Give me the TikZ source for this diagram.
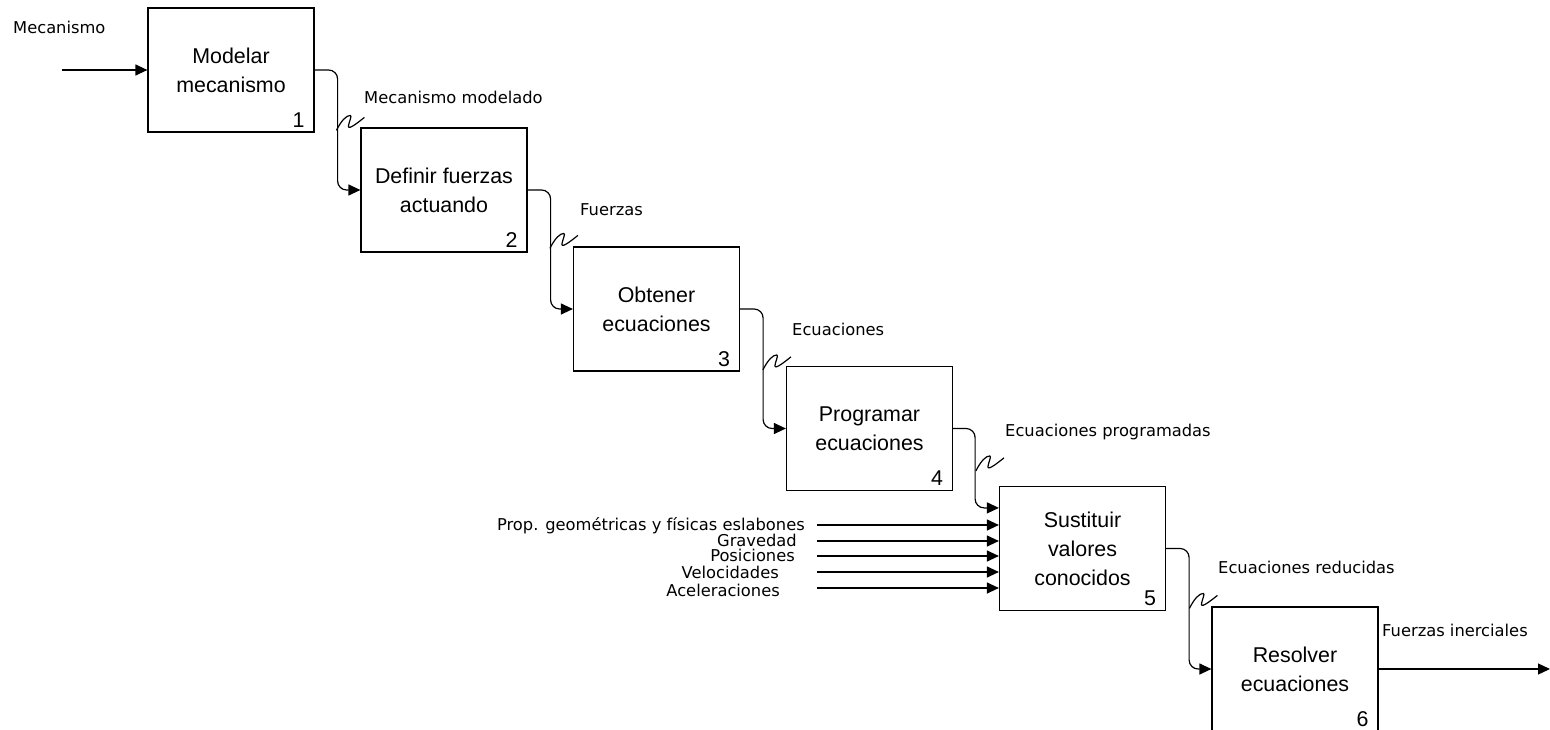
\documentclass[tikz,border=0pt]{standalone}
\usepackage{fontspec}
\setmainfont{Liberation Sans}
\newfontfamily\lblfamily{DejaVu Sans}
\usetikzlibrary{arrows.meta, calc}
\tikzset{proc/.style={draw, line width=1.2pt, minimum width=166pt, minimum height=124pt, inner sep=0pt, align=center, font=\fontsize{21.4}{29}\selectfont}}
\tikzset{procnum/.style={anchor=south east, inner sep=0pt, font=\fontsize{21.4}{25}\selectfont}}
\tikzset{flowlabel/.style={anchor=base west, inner sep=0pt, font=\lblfamily\fontsize{16.3}{18}\selectfont}}
\tikzset{inlabel/.style={flowlabel, anchor=base east}}
\tikzset{flow/.style={line width=1.2pt, rounded corners=9pt, -{Triangle[length=12pt, width=11pt]}}}
\tikzset{squiggle/.style={line width=1.2pt, line join=round}}

\begin{document}
\begin{tikzpicture}[x=1pt, y=-1pt]
    \useasboundingbox (0, 0) rectangle (1550, 730);
    % activity boxes
    \node[proc] (b1) at (231, 70) {Modelar\\mecanismo};
    \node[proc] (b2) at (444, 190) {Definir fuerzas\\actuando};
    \node[proc] (b3) at (656.5, 309) {Obtener\\ecuaciones};
    \node[proc] (b4) at (869.5, 428.5) {Programar\\ecuaciones};
    \node[proc] (b5) at (1082.5, 548.5) {Sustituir\\valores\\conocidos};
    \node[proc] (b6) at (1295, 669) {Resolver\\ecuaciones};
    \foreach \i in {1, ..., 6} {
        \node[procnum] (n\i) at ([shift={(-10, -5)}]b\i.south east) {\i};
    }
    % flows between boxes
    \coordinate (src) at (62, 70);
    \coordinate (sink) at (1550, 669);
    \coordinate (b5in) at ($(b5.north west) + (0, 22)$);
    \draw[flow] (src) -- (b1.west);
    \foreach \a/\b in {1/2, 2/3, 3/4, 5/6} {
        \draw[flow] (b\a.east) -- ++(23, 0) |- (b\b.west);
    }
    \draw[flow] (b4.east) -- ++(22, 0) |- (b5in);
    \draw[flow] (b6.east) -- (sink);
    % squiggles tying labels to flows
    \foreach \b/\dx/\dy in {2/-24/3, 3/-23/2, 4/-23/4, 5/-23/-15, 6/-22/2} {
        \coordinate (sq\b) at ($(b\b.north west) + (\dx, \dy)$);
        \draw[squiggle] (sq\b) .. controls +(5, -10) and +(-4, 0) .. ++(14, -15)
            .. controls +(2, 0) and +(0, -3) .. ++(-2, 11)
            .. controls +(0, 4) and +(-5, 4) .. ++(16, -9);
    }
    % flow labels
    \node[flowlabel] (l0) at (13, 34) {Mecanismo};
    \node[flowlabel] (l1) at (364, 104) {Mecanismo modelado};
    \node[flowlabel] (l2) at (580, 215) {Fuerzas};
    \node[flowlabel] (l3) at (792, 335) {Ecuaciones};
    \node[flowlabel] (l4) at (1005, 436) {Ecuaciones programadas};
    \node[flowlabel] (l5) at (1218, 573) {Ecuaciones reducidas};
    \node[flowlabel] (l6) at (1382, 636) {Fuerzas inerciales};
    % known inputs of box 5
    \foreach \y/\xe/\yb/\txt [count=\k] in {525/805/530/{Prop. geométricas y físicas eslabones},
            541/797/546.5/Gravedad, 556/795/561/Posiciones, 572/779/578.5/Velocidades,
            588/780/596/Aceleraciones} {
        \coordinate (in\k) at (817, \y);
        \node[inlabel] (li\k) at (\xe, \yb) {\txt};
        \draw[flow] (in\k) -- (in\k -| b5.west);
    }
\end{tikzpicture}
\end{document}
